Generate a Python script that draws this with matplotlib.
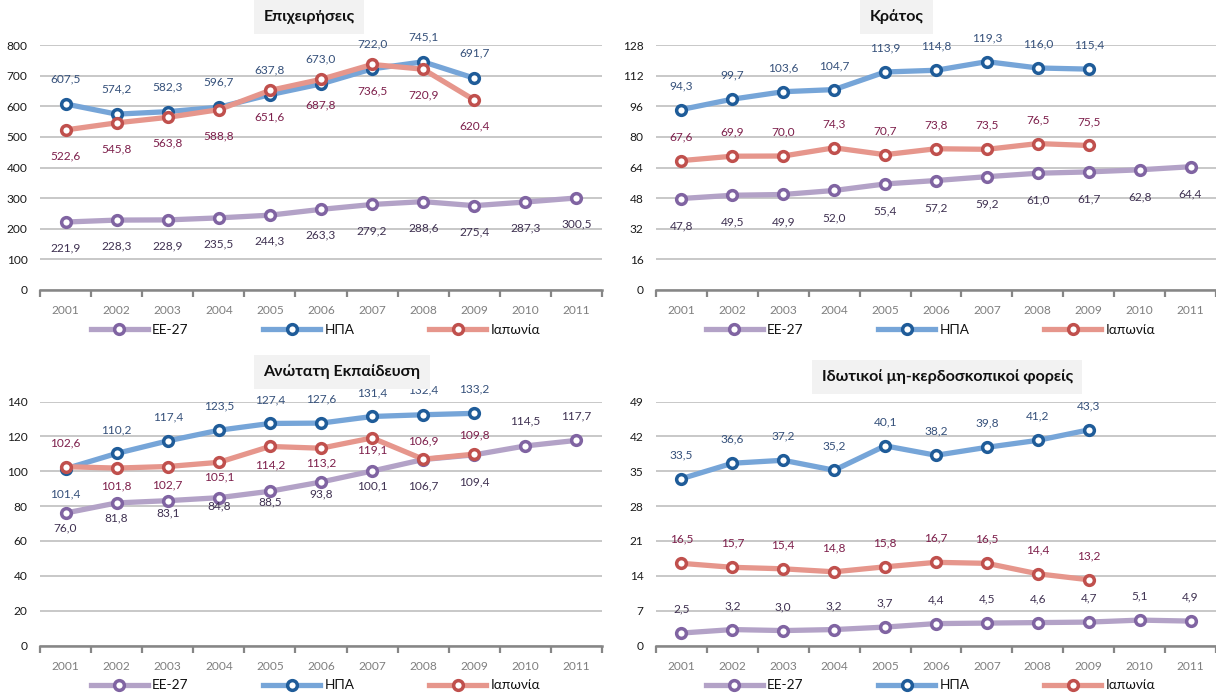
import numpy as np
import matplotlib.pyplot as plt

plt.rcParams['font.family'] = ['Lato', 'DejaVu Sans']

years = ['2001', '2002', '2003', '2004', '2005', '2006', '2007', '2008', '2009', '2010', '2011']
series_names = ['ΕΕ-27', 'ΗΠΑ', 'Ιαπωνία']

# Επιχειρήσεις
biz_eu = [221.9, 228.3, 228.9, 235.5, 244.3, 263.3, 279.2, 288.6, 275.4, 287.3, 300.5]
biz_us = [607.5, 574.2, 582.3, 596.7, 637.8, 673.0, 722.0, 745.1, 691.7]
biz_jp = [522.6, 545.8, 563.8, 588.8, 651.6, 687.8, 736.5, 720.9, 620.4]

# Κράτος
gov_eu = [47.8, 49.5, 49.9, 52.0, 55.4, 57.2, 59.2, 61.0, 61.7, 62.8, 64.4]
gov_us = [94.3, 99.7, 103.6, 104.7, 113.9, 114.8, 119.3, 116.0, 115.4]
gov_jp = [67.6, 69.9, 70.0, 74.3, 70.7, 73.8, 73.5, 76.5, 75.5]

# Ανώτατη Εκπαίδευση
edu_eu = [76.0, 81.8, 83.1, 84.8, 88.5, 93.8, 100.1, 106.7, 109.4, 114.5, 117.7]
edu_us = [101.4, 110.2, 117.4, 123.5, 127.4, 127.6, 131.4, 132.4, 133.2]
edu_jp = [102.6, 101.8, 102.7, 105.1, 114.2, 113.2, 119.1, 106.9, 109.8]

# Ιδιωτικοί μη-κερδοσκοπικοί φορείς
npo_eu = [2.5, 3.2, 3.0, 3.2, 3.7, 4.4, 4.5, 4.6, 4.7, 5.1, 4.9]
npo_us = [33.5, 36.6, 37.2, 35.2, 40.1, 38.2, 39.8, 41.2, 43.3]
npo_jp = [16.5, 15.7, 15.4, 14.8, 15.8, 16.7, 16.5, 14.4, 13.2]

# styles: line colour, marker edge colour, label colour
line_cols = ['#b3a2c7', '#76a5d8', '#e6968c']
edge_cols = ['#8064a2', '#1f5c99', '#c0504d']
lab_cols = ['#3f3151', '#35507a', '#7d1f4b']

W, H = 1216, 699
fig = plt.figure(figsize=(W / 100, H / 100), dpi=100)


def px_box(x0, x1, ytop, ybot):
    return [x0 / W, 1 - ybot / H, (x1 - x0) / W, (ybot - ytop) / H]


# label offsets are in pixels, positive = above the point
panels = [
    dict(box=px_box(40, 602, 45, 290), title='Επιχειρήσεις', tx=0.479, ty=17,
         data=[biz_eu, biz_us, biz_jp], top=800, step=100,
         offs=[-26, 25, -26]),
    dict(box=px_box(656, 1216, 45, 290), title='Κράτος', tx=0.43, ty=17,
         data=[gov_eu, gov_us, gov_jp], top=128, step=16,
         offs=[-27, 24, 24]),
    dict(box=px_box(40, 602, 401.5, 645.5), title='Ανώτατη Εκπαίδευση', tx=0.537, ty=372,
         data=[edu_eu, edu_us, edu_jp], top=140, step=20,
         offs=[[-15, -15, -12, -8, -11, -12, -15, -26, -27, 25, 24],
               [-25, 24, 24, 24, 24, 24, 24, 25, 24],
               [24, -18, -18, -15, -18, -15, -12, 18, 19]]),
    dict(box=px_box(656, 1216, 401.5, 645.5), title='Ιδωτικοί μη-κερδοσκοπικοί φορείς', tx=0.52, ty=377,
         data=[npo_eu, npo_us, npo_jp], top=49, step=7,
         offs=[24, 24, 24]),
]

for p in panels:
    ax = fig.add_axes(p['box'])
    handles = []
    for i, vals in enumerate(p['data']):
        x = np.arange(len(vals))
        ln, = ax.plot(x, vals, color=line_cols[i], lw=3.8, marker='o', ms=7,
                      mfc='white', mec=edge_cols[i], mew=2.5, zorder=3 + i,
                      clip_on=False, label=series_names[i])
        handles.append(ln)
        off = p['offs'][i]
        for j, v in enumerate(vals):
            o = off[j] if isinstance(off, list) else off
            ax.annotate(f'{v:.1f}'.replace('.', ','), (j, v), xytext=(0, o * 0.72),
                        textcoords='offset points', ha='center', va='center',
                        fontsize=8.6, color=lab_cols[i], zorder=10)
    ax.set_xlim(-0.5, len(years) - 0.5)
    ax.set_ylim(0, p['top'])
    ax.set_yticks(np.arange(0, p['top'] + 1, p['step']))
    ax.set_xticks(range(len(years)))
    ax.set_xticklabels(years)
    ax.set_xticks(np.arange(-0.5, len(years)), minor=True)
    ax.tick_params(axis='x', which='major', length=0, pad=11, labelsize=8.6, labelcolor='#7f7f7f')
    ax.tick_params(axis='x', which='minor', length=5, width=1.6, color='#868686')
    ax.tick_params(axis='y', length=0, pad=9, labelsize=8.6, labelcolor='#1a1a1a')
    ax.yaxis.grid(True, color='#c4c4c4', lw=1.3)
    ax.set_axisbelow(True)
    for s in ['left', 'right', 'top']:
        ax.spines[s].set_visible(False)
    ax.spines['bottom'].set_color('#868686')
    ax.spines['bottom'].set_linewidth(1.8)
    ax.spines['bottom'].set_zorder(2.5)

    fig.text(p['box'][0] + p['tx'] * p['box'][2], 1 - p['ty'] / H, p['title'],
             ha='center', va='center', fontsize=11.5, fontweight='bold', color='#111111',
             zorder=20, bbox=dict(boxstyle='square,pad=0.6', fc='#f2f2f2', ec='none'))

    leg = ax.legend(handles=handles, loc='center', bbox_to_anchor=(0.49, -40 / 245),
                    ncol=3, frameon=False, fontsize=9.8, handlelength=4.2,
                    handletextpad=0.3, columnspacing=5.5, borderaxespad=0)
    for t in leg.get_texts():
        t.set_color('#111111')

fig.savefig('out.png', dpi=100)
